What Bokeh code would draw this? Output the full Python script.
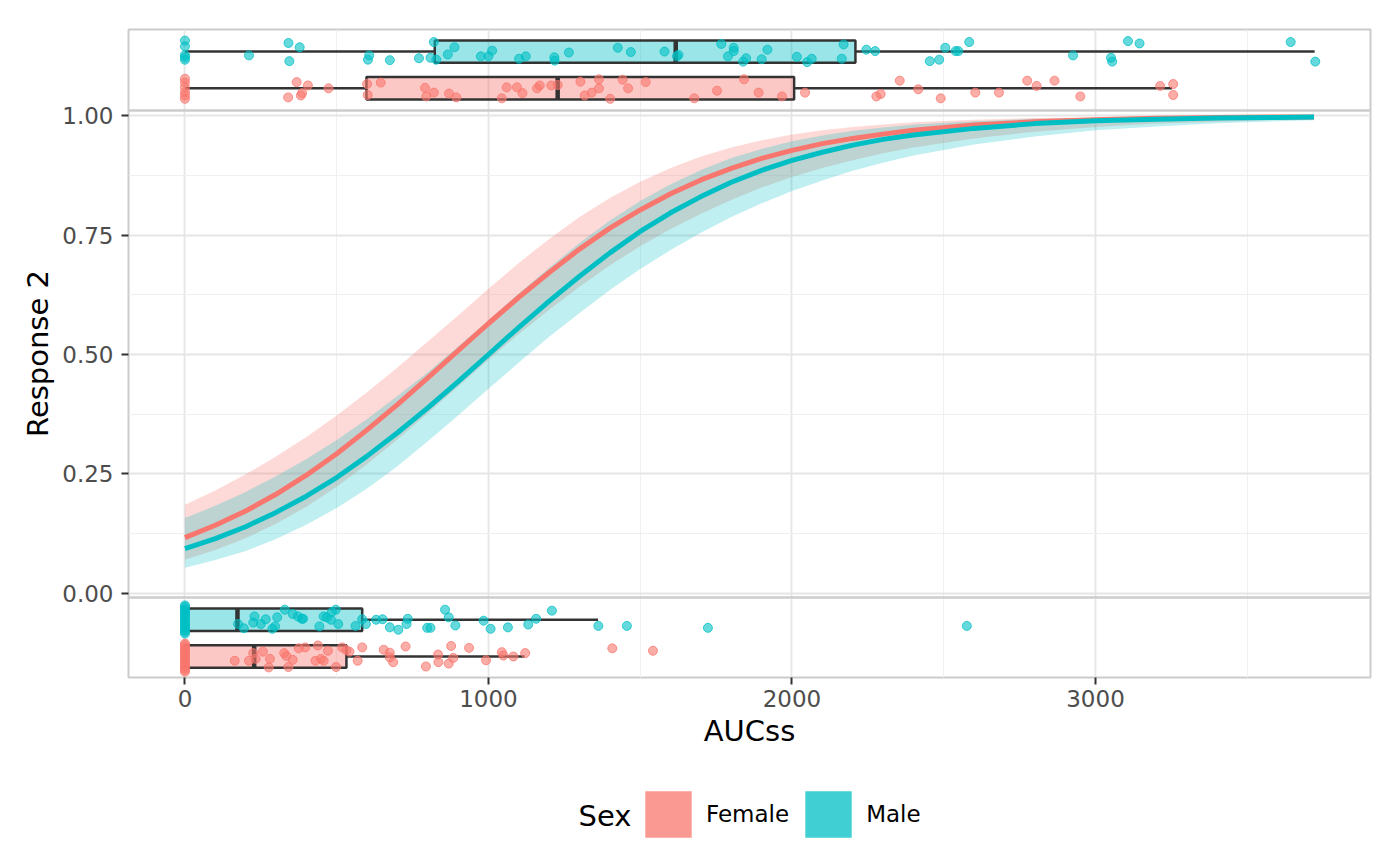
from bokeh.plotting import figure
from bokeh.layouts import column
from bokeh.models import (ColumnDataSource, FixedTicker, NumeralTickFormatter, Span,
                          Legend, LegendItem, Range1d, Label)
from bokeh.embed import file_html
from bokeh.resources import INLINE

# ---------------- data ----------------
curve_x = [0, 100, 200, 300, 400, 500, 600, 700, 800, 900, 1000, 1100, 1200, 1300, 1400,
           1500, 1600, 1700, 1800, 1900, 2000, 2100, 2200, 2300, 2400, 2600, 2800, 3000,
           3200, 3400, 3600, 3720]
female_fit = [0.116, 0.142, 0.172, 0.207, 0.247, 0.292, 0.342, 0.395, 0.451, 0.508, 0.565,
              0.620, 0.672, 0.721, 0.765, 0.803, 0.837, 0.866, 0.890, 0.911, 0.928, 0.942,
              0.953, 0.962, 0.970, 0.981, 0.988, 0.992, 0.995, 0.997, 0.998, 0.998]
female_lo = [0.070, 0.090, 0.115, 0.145, 0.181, 0.223, 0.270, 0.322, 0.377, 0.433, 0.489,
             0.543, 0.594, 0.642, 0.687, 0.727, 0.763, 0.795, 0.824, 0.850, 0.872, 0.891,
             0.907, 0.922, 0.934, 0.953, 0.967, 0.977, 0.984, 0.988, 0.992, 0.993]
female_hi = [0.185, 0.215, 0.249, 0.286, 0.327, 0.372, 0.421, 0.473, 0.527, 0.582, 0.638,
             0.692, 0.742, 0.788, 0.828, 0.862, 0.891, 0.915, 0.934, 0.949, 0.961, 0.970,
             0.977, 0.982, 0.987, 0.992, 0.996, 0.997, 0.999, 0.999, 1.000, 1.000]
male_fit = [0.093, 0.114, 0.139, 0.169, 0.203, 0.242, 0.287, 0.336, 0.388, 0.443, 0.500,
            0.557, 0.612, 0.664, 0.713, 0.758, 0.797, 0.831, 0.861, 0.886, 0.907, 0.924,
            0.939, 0.951, 0.960, 0.974, 0.984, 0.990, 0.993, 0.996, 0.997, 0.998]
male_lo = [0.053, 0.069, 0.088, 0.113, 0.143, 0.178, 0.219, 0.266, 0.318, 0.372, 0.428,
           0.483, 0.537, 0.587, 0.635, 0.679, 0.719, 0.755, 0.788, 0.817, 0.843, 0.865,
           0.885, 0.902, 0.917, 0.940, 0.957, 0.970, 0.978, 0.985, 0.989, 0.991]
male_hi = [0.157, 0.183, 0.212, 0.245, 0.281, 0.321, 0.365, 0.413, 0.463, 0.517, 0.572,
           0.628, 0.682, 0.734, 0.781, 0.822, 0.857, 0.887, 0.912, 0.931, 0.947, 0.959,
           0.969, 0.976, 0.982, 0.989, 0.994, 0.996, 0.998, 0.999, 0.999, 1.000]

# boxplot statistics: (Female resp=1, Male resp=1, Female resp=0, Male resp=0)
box_sex = ["Female", "Male", "Female", "Male"]
box_resp = [1, 1, 0, 0]
box_lo = [0, 0, 0, 0]
box_q1 = [598, 823, 0, 0]
box_med = [1228, 1617, 228, 173]
box_q3 = [2007, 2209, 532, 584]
box_hi = [3252, 3722, 1119, 1361]

# jittered observations (response = 1, top strip)
top_female_x = [0, 0, 0, 0, 0, 0, 368, 405, 340, 382, 386, 473, 600, 602, 645, 791, 795, 820,
                870, 894, 1044, 1060, 1094, 1112, 1160, 1169, 1207, 1228, 1303, 1317, 1340,
                1364, 1364, 1401, 1442, 1460, 1518, 1678, 1753, 1842, 1890, 1967, 2043, 2278,
                2292, 2355, 2416, 2490, 2604, 2682, 2775, 2806, 2865, 2950, 3213, 3256, 3256]
top_female_y = [1.078, 1.070, 1.060, 1.050, 1.043, 1.036, 1.071, 1.064, 1.039, 1.043, 1.048,
                1.058, 1.067, 1.044, 1.070, 1.059, 1.041, 1.049, 1.047, 1.039, 1.037, 1.060,
                1.060, 1.048, 1.058, 1.064, 1.064, 1.065, 1.072, 1.043, 1.049, 1.077, 1.058,
                1.036, 1.076, 1.058, 1.071, 1.037, 1.053, 1.077, 1.049, 1.041, 1.049, 1.041,
                1.046, 1.074, 1.056, 1.037, 1.049, 1.049, 1.074, 1.063, 1.074, 1.041, 1.063,
                1.067, 1.044]
top_male_x = [0, 0, 0, 0, 0, 211, 341, 378, 344, 607, 603, 675, 771, 809, 820, 828, 866, 888,
              975, 1000, 1012, 1101, 1123, 1217, 1218, 1265, 1426, 1469, 1580, 1621, 1626,
              1767, 1808, 1808, 1789, 1839, 1849, 1900, 1919, 2016, 2050, 2065, 2170, 2164,
              2245, 2274, 2454, 2485, 2505, 2539, 2548, 2584, 2926, 3051, 3055, 3107, 3145,
              3643, 3724]
top_male_y = [1.158, 1.146, 1.128, 1.123, 1.118, 1.127, 1.153, 1.144, 1.115, 1.127, 1.118,
              1.117, 1.121, 1.122, 1.155, 1.118, 1.129, 1.144, 1.125, 1.125, 1.137, 1.120,
              1.125, 1.123, 1.116, 1.133, 1.143, 1.134, 1.135, 1.125, 1.128, 1.151, 1.143,
              1.136, 1.125, 1.114, 1.121, 1.119, 1.139, 1.124, 1.113, 1.120, 1.150, 1.120,
              1.139, 1.136, 1.115, 1.118, 1.143, 1.136, 1.136, 1.155, 1.127, 1.122, 1.114,
              1.157, 1.152, 1.155, 1.114]

# jittered observations (response = 0, bottom strip)
bot_female_x = [0, 0, 0, 0, 0, 0, 0, 0, 0, 0, 0, 0, 0, 0, 0, 0,
                164, 211, 225, 233, 257, 276, 280, 327, 334, 341, 355,
                375, 396, 430, 438, 448, 457, 471, 498, 518, 532, 542, 569, 584, 655, 675, 675,
                686, 727, 794, 834, 835, 869, 877, 884, 936, 992, 1044, 1049, 1082, 1121,
                1408, 1542]
bot_female_y = [-0.106, -0.109, -0.114, -0.117, -0.121, -0.126, -0.129, -0.133, -0.138,
                -0.141, -0.146, -0.149, -0.153, -0.158, -0.161, -0.165,
                -0.142, -0.142, -0.126, -0.138, -0.123, -0.156, -0.138, -0.126, -0.132, -0.155,
                -0.140, -0.116, -0.114, -0.142, -0.110, -0.138, -0.142, -0.121, -0.155,
                -0.114, -0.120, -0.123, -0.142, -0.114, -0.119, -0.125, -0.135, -0.145,
                -0.112, -0.154, -0.129, -0.145, -0.148, -0.111, -0.136, -0.115, -0.141,
                -0.124, -0.131, -0.133, -0.126, -0.116, -0.121]
bot_male_x = [0, 0, 0, 0, 0, 0, 0, 0, 0, 0, 0, 0, 0, 0, 0, 0,
              175, 194, 229, 225, 250, 266, 288, 297, 304, 329, 355,
              372, 385, 389, 443, 457, 467, 481, 484, 497, 505, 562, 584, 596, 630, 651, 675,
              703, 734, 730, 798, 809, 857, 869, 891, 984, 1007, 1064, 1131, 1157, 1209, 1362,
              1456, 1723, 2576]
bot_male_y = [-0.026, -0.029, -0.034, -0.037, -0.041, -0.046, -0.049, -0.053, -0.058, -0.061,
              -0.066, -0.069, -0.073, -0.078, -0.081, -0.085,
              -0.065, -0.074, -0.049, -0.062, -0.065, -0.055, -0.075, -0.070, -0.051, -0.035,
              -0.044, -0.049, -0.054, -0.054, -0.070, -0.049, -0.051, -0.056, -0.040, -0.035,
              -0.065, -0.069, -0.055, -0.065, -0.056, -0.055, -0.072, -0.077, -0.054, -0.065,
              -0.073, -0.073, -0.035, -0.051, -0.068, -0.058, -0.075, -0.072, -0.066, -0.054,
              -0.037, -0.069, -0.069, -0.073, -0.069]

x_ticks = [0, 1000, 2000, 3000]
x_minor = [500, 1500, 2500, 3500]
y_ticks = [0, 0.25, 0.5, 0.75, 1.0]
y_minor = [0.125, 0.375, 0.625, 0.875]

# ---------------- style / layout ----------------
COL = {"Female": "#F8766D", "Male": "#00BFC4"}
BOX_CENTER = {("Female", 1): 1.058, ("Male", 1): 1.135, ("Female", 0): -0.133, ("Male", 0): -0.056}
BOX_H = 0.047
STRIP_TOP_SEP = 1.0115
STRIP_BOT_SEP = -0.0094
FONT = "DejaVu Sans"
BORDER = "#CCCCCC"

p = figure(frame_width=1242, frame_height=648, output_backend="svg", toolbar_location=None,
           x_range=Range1d(-186, 3906), y_range=Range1d(-0.1771, 1.1813),
           min_border_left=128, min_border_right=22, min_border_top=29, min_border_bottom=100)
p.background_fill_color = "white"
p.border_fill_color = "white"
p.outline_line_color = BORDER
p.outline_line_width = 2

p.xaxis.ticker = FixedTicker(ticks=x_ticks, minor_ticks=x_minor)
p.yaxis.ticker = FixedTicker(ticks=y_ticks, minor_ticks=y_minor)
p.yaxis.formatter = NumeralTickFormatter(format="0.00")
for ax in (p.xaxis, p.yaxis):
    ax.axis_line_color = None
    ax.minor_tick_line_color = None
    ax.major_tick_in = 0
    ax.major_tick_out = 7
    ax.major_tick_line_color = "#333333"
    ax.major_tick_line_width = 2
    ax.major_label_text_font = FONT
    ax.major_label_text_font_size = "23px"
    ax.major_label_text_color = "#4D4D4D"
    ax.axis_label_text_font = FONT
    ax.axis_label_text_font_size = "29px"
    ax.axis_label_text_font_style = "normal"
    ax.axis_label_text_color = "black"
p.xaxis.axis_label = "AUCss"
p.yaxis.axis_label = "Response 2"
p.xaxis.major_label_standoff = 5
p.xaxis.axis_label_standoff = 4
p.yaxis.major_label_standoff = 8
p.yaxis.axis_label_standoff = 4

for g in (p.xgrid, p.ygrid):
    g.grid_line_color = "#E5E5E5"
    g.grid_line_width = 1.8
    g.minor_grid_line_color = "#F0F0F0"
    g.minor_grid_line_width = 1

# strip separators
for yy in (STRIP_TOP_SEP, STRIP_BOT_SEP):
    p.add_layout(Span(location=yy, dimension="width", line_color=BORDER, line_width=2.5))

# ribbons and fitted curves
p.varea(x=curve_x, y1=female_lo, y2=female_hi, fill_color=COL["Female"], fill_alpha=0.27)
p.varea(x=curve_x, y1=male_lo, y2=male_hi, fill_color=COL["Male"], fill_alpha=0.25)
p.line(x=curve_x, y=female_fit, line_color=COL["Female"], line_width=5)
p.line(x=curve_x, y=male_fit, line_color=COL["Male"], line_width=5)

# boxplots
centers = [BOX_CENTER[(s, r)] for s, r in zip(box_sex, box_resp)]
bdata = dict(
    lo=box_lo, q1=box_q1, med=box_med, q3=box_q3, hi=box_hi, y=centers,
    bot=[c - BOX_H / 2 for c in centers], top=[c + BOX_H / 2 for c in centers],
    fill=[COL[s] for s in box_sex], sex=box_sex)
bsrc = ColumnDataSource(bdata)
p.segment(x0="lo", x1="q1", y0="y", y1="y", source=bsrc, line_color="#333333", line_width=2.5)
p.segment(x0="q3", x1="hi", y0="y", y1="y", source=bsrc, line_color="#333333", line_width=2.5)
p.quad(left="q1", right="q3", bottom="bot", top="top", source=bsrc, fill_color="fill",
       fill_alpha=0.4, line_color="#333333", line_width=2.5)
p.segment(x0="med", x1="med", y0="bot", y1="top", source=bsrc, line_color="#333333", line_width=4.5)

# jittered points
for xs, ys, sex in ((top_female_x, top_female_y, "Female"), (top_male_x, top_male_y, "Male"),
                    (bot_female_x, bot_female_y, "Female"), (bot_male_x, bot_male_y, "Male")):
    p.scatter(x=xs, y=ys, size=9, fill_color=COL[sex], fill_alpha=0.6,
              line_color=COL[sex], line_alpha=0.75, line_width=1)

# ---------------- legend strip (separate figure below the plot) ----------------
lg = figure(width=1392, height=81, output_backend="svg", toolbar_location=None,
            x_range=Range1d(0, 1), y_range=Range1d(0, 1),
            x_axis_type=None, y_axis_type=None, min_border=0)
lg.outline_line_color = None
lg.grid.visible = False
lg.background_fill_color = "white"
lg.border_fill_color = "white"

keys = {}
for sex in ("Female", "Male"):
    idx = [i for i, s in enumerate(box_sex) if s == sex]
    sub = ColumnDataSource({k: [v[i] for i in idx] for k, v in bdata.items()})
    keys[sex] = lg.quad(left="q1", right="q3", bottom="bot", top="top", source=sub,
                        fill_color=COL[sex], fill_alpha=0.75, line_color=None, visible=False)

legend = Legend(
    items=[LegendItem(label="Female", renderers=[keys["Female"]]),
           LegendItem(label="Male", renderers=[keys["Male"]])],
    orientation="horizontal", location=(511, 15),
    glyph_width=58, glyph_height=58, label_standoff=9, spacing=10, padding=0, margin=0,
    label_text_font=FONT, label_text_font_size="23px", label_text_color="black",
    border_line_color=None, background_fill_alpha=0)
lg.add_layout(legend, "center")
lg.add_layout(Label(x=450, y=43, x_units="screen", y_units="screen", text="Sex",
                    text_font=FONT, text_font_size="29px", text_color="black",
                    text_baseline="middle", text_align="left"))

open("out.html", "w").write(file_html(column(p, lg), INLINE))
